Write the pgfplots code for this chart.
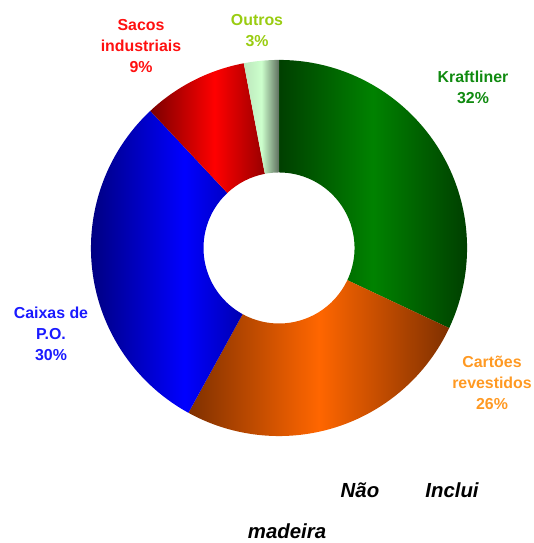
\documentclass[border=0pt]{standalone}
\usepackage{pgfplots}
\pgfplotsset{compat=1.18}
\usepackage{pgfplotstable}
\usepackage{fontspec}
\setmainfont{Liberation Sans}
\pgfplotstableread[col sep=comma]{
name,value
Kraftliner,32
Cartoes,26
Caixas,30
Sacos,9
Outros,3
}\datatable
\definecolor{gDk}{HTML}{003F00}
\definecolor{gBr}{HTML}{008200}
\definecolor{oDk}{HTML}{7F3000}
\definecolor{oBr}{HTML}{FF6600}
\definecolor{bDk}{HTML}{000080}
\definecolor{bBr}{HTML}{0000FF}
\definecolor{rDk}{HTML}{7A0000}
\definecolor{rBr}{HTML}{FF0000}
\definecolor{mLt}{HTML}{BCE6BC}
\definecolor{mBr}{HTML}{CCFFCC}
\definecolor{mDk}{HTML}{5F6F5F}
\definecolor{labG}{HTML}{108A10}
\definecolor{labO}{HTML}{FF9922}
\definecolor{labB}{HTML}{1A1AFF}
\definecolor{labR}{HTML}{FF1010}
\definecolor{labY}{HTML}{99CC11}
\begin{document}
\begin{tikzpicture}
\pgfplotstablegetelem{0}{value}\of\datatable\pgfmathsetmacro\vA{\pgfplotsretval}
\pgfplotstablegetelem{1}{value}\of\datatable\pgfmathsetmacro\vB{\pgfplotsretval}
\pgfplotstablegetelem{2}{value}\of\datatable\pgfmathsetmacro\vC{\pgfplotsretval}
\pgfplotstablegetelem{3}{value}\of\datatable\pgfmathsetmacro\vD{\pgfplotsretval}
\pgfplotstablegetelem{4}{value}\of\datatable\pgfmathsetmacro\vE{\pgfplotsretval}
\pgfmathsetmacro\aA{90}
\pgfmathsetmacro\aB{\aA-3.6*\vA}
\pgfmathsetmacro\aC{\aB-3.6*\vB}
\pgfmathsetmacro\aD{\aC-3.6*\vC}
\pgfmathsetmacro\aE{\aD-3.6*\vD}
\pgfmathsetmacro\aF{\aE-3.6*\vE}
\begin{axis}[
  x=0.025cm, y=0.025cm,
  xmin=0, xmax=533, ymin=0, ymax=543,
  hide axis, clip=false,
]
\path (axis cs:0,0) rectangle (axis cs:533,543);
% wedges: centre (279,295), outer r=188, inner r=75.5 (pixel units, 0.025cm each)
\shade[left color=gDk, right color=gDk, middle color=gBr]
  (axis cs:279,295) ++(\aA:4.7cm) arc[start angle=\aA, end angle=\aB, radius=4.7cm]
  -- ++(\aB+180:2.8125cm) arc[start angle=\aB, end angle=\aA, radius=1.8875cm] -- cycle;
\shade[left color=oDk, right color=oDk, middle color=oBr]
  (axis cs:279,295) ++(\aB:4.7cm) arc[start angle=\aB, end angle=\aC, radius=4.7cm]
  -- ++(\aC+180:2.8125cm) arc[start angle=\aC, end angle=\aB, radius=1.8875cm] -- cycle;
\shade[left color=bDk, right color=bDk, middle color=bBr]
  (axis cs:279,295) ++(\aC:4.7cm) arc[start angle=\aC, end angle=\aD, radius=4.7cm]
  -- ++(\aD+180:2.8125cm) arc[start angle=\aD, end angle=\aC, radius=1.8875cm] -- cycle;
\shade[left color=rDk, right color=rDk, middle color=rBr]
  (axis cs:279,295) ++(\aD:4.7cm) arc[start angle=\aD, end angle=\aE, radius=4.7cm]
  -- ++(\aE+180:2.8125cm) arc[start angle=\aE, end angle=\aD, radius=1.8875cm] -- cycle;
\shade[left color=mLt, right color=mDk, middle color=mBr]
  (axis cs:279,295) ++(\aE:4.7cm) arc[start angle=\aE, end angle=\aF, radius=4.7cm]
  -- ++(\aF+180:2.8125cm) arc[start angle=\aF, end angle=\aE, radius=1.8875cm] -- cycle;
% labels
\begin{scope}[every node/.style={align=center, inner sep=0pt, font=\bfseries\fontsize{11.3}{14.9}\selectfont}]
\node[text=labG] at (axis cs:473,455.5) {Kraftliner\\32\%};
\node[text=labO] at (axis cs:492,160) {Cartões\\revestidos\\26\%};
\node[text=labB] at (axis cs:51,209) {Caixas de\\P.O.\\30\%};
\node[text=labR] at (axis cs:141,497) {Sacos\\industriais\\9\%};
\node[text=labY] at (axis cs:257,512) {Outros\\3\%};
\end{scope}
\begin{scope}[every node/.style={inner sep=0pt, anchor=base, font=\bfseries\itshape\fontsize{14.5}{17}\selectfont}]
\node at (axis cs:360,45) {Não};
\node at (axis cs:452,45) {Inclui};
\node at (axis cs:287,4) {madeira};
\end{scope}
\end{axis}
\end{tikzpicture}
\end{document}
